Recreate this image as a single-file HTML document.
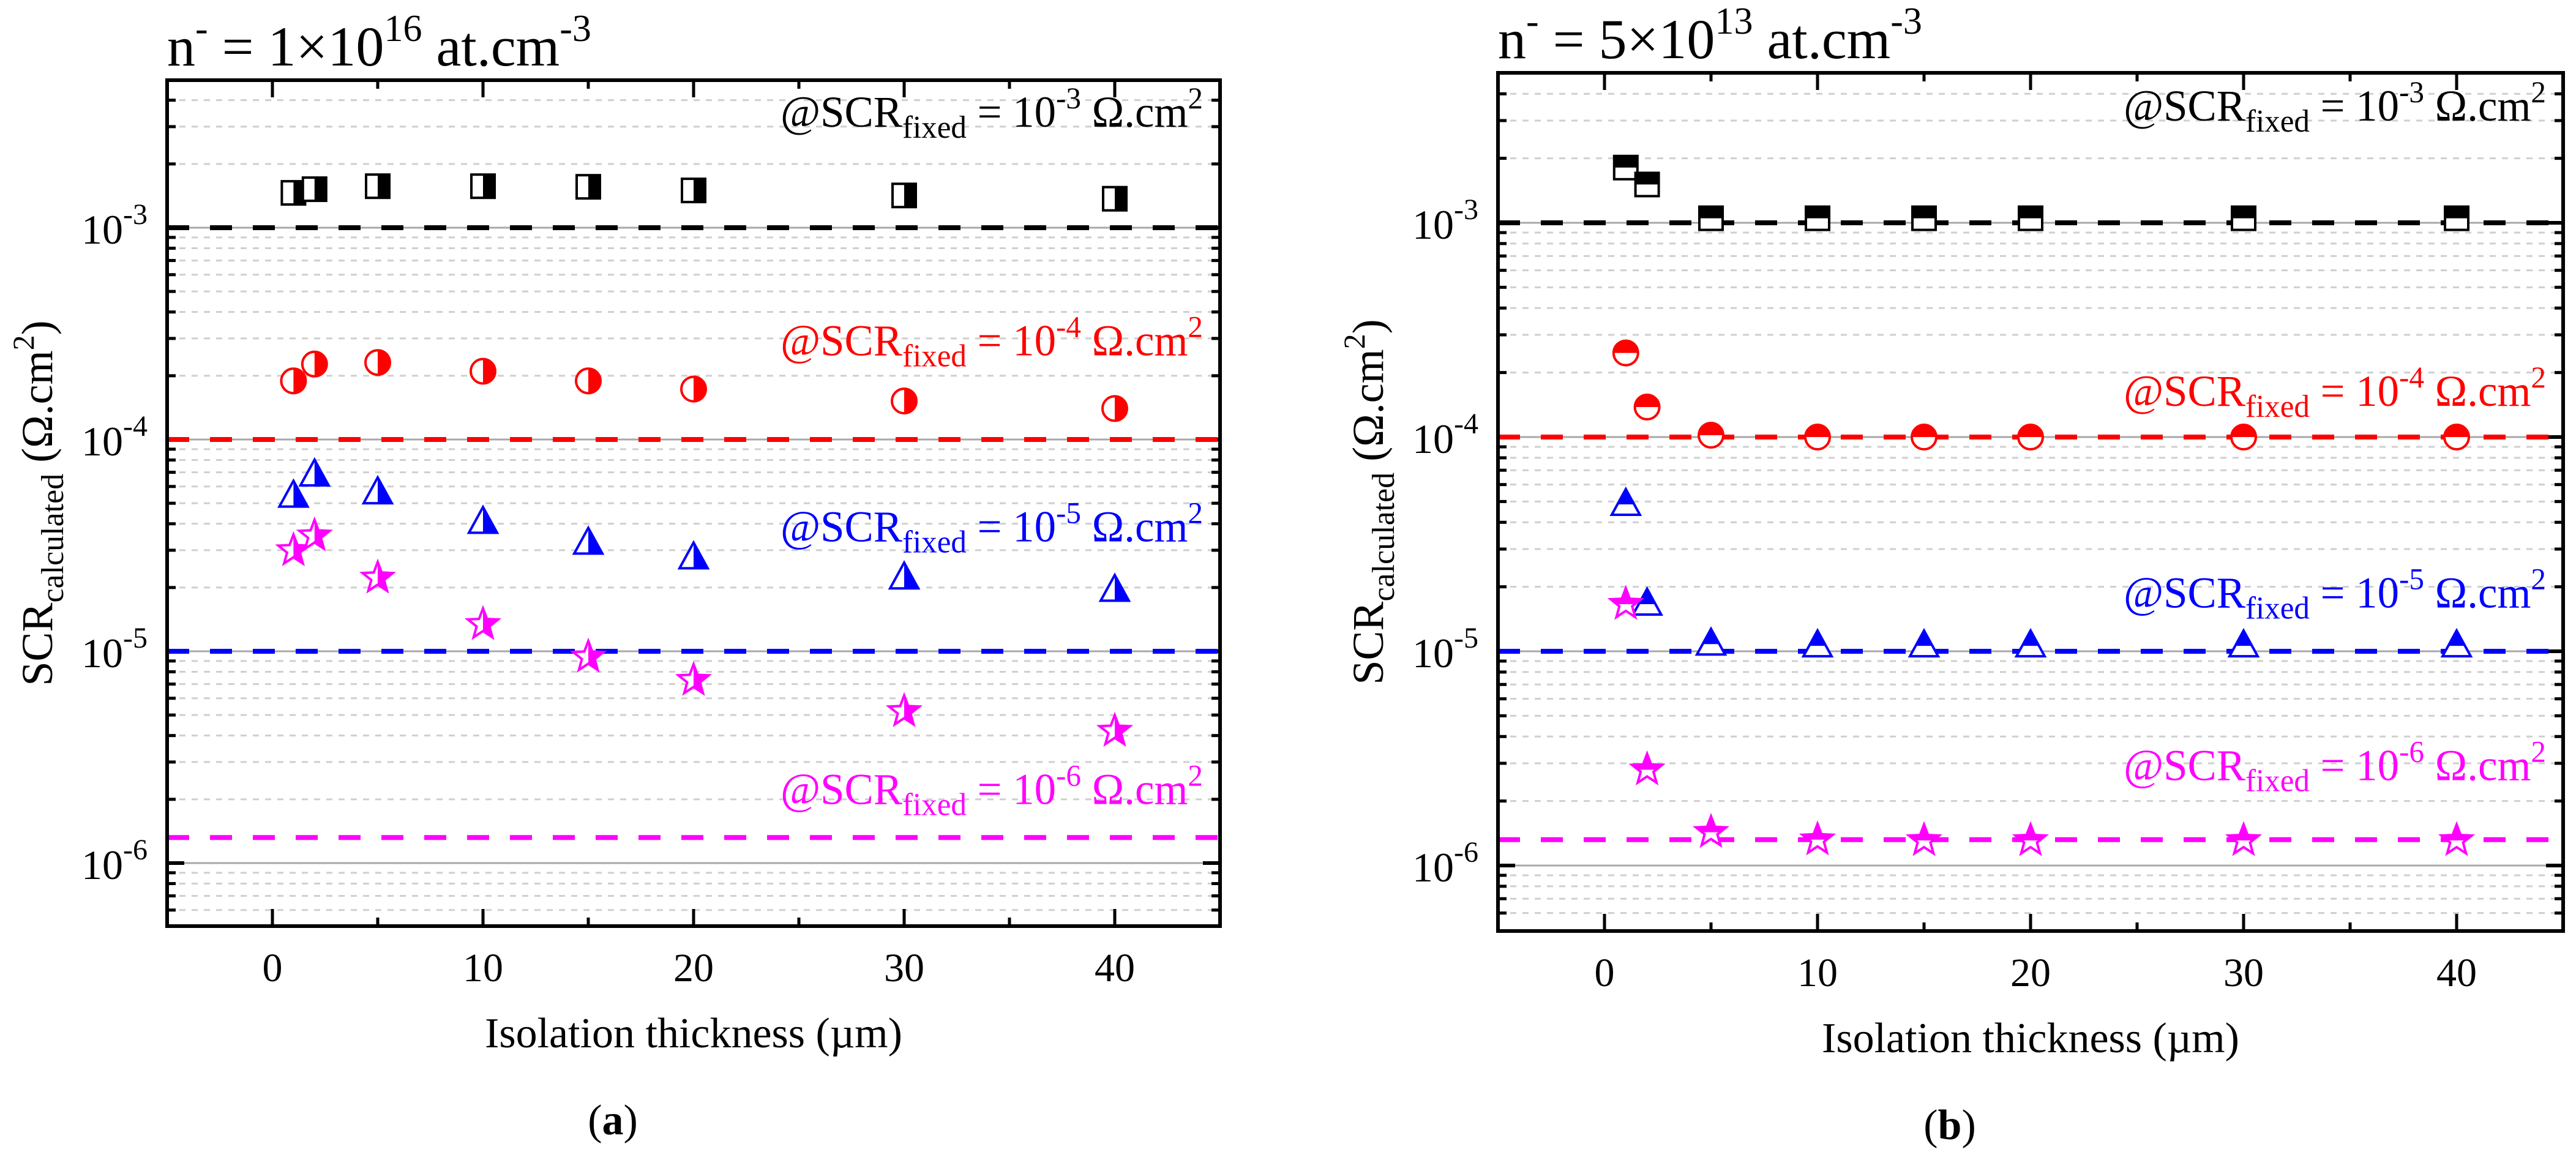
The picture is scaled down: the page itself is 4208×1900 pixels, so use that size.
<!DOCTYPE html>
<html><head><meta charset="utf-8">
<style>
html,body{margin:0;padding:0;background:#fff;}
svg, svg text{font-family:"Liberation Serif","Times New Roman","DejaVu Serif",serif;}
</style></head>
<body>
<svg id="fig" width="4208" height="1895" viewBox="0 0 4208 1895" xmlns="http://www.w3.org/2000/svg" font-family="'Liberation Serif', 'Times New Roman', serif">
<defs>
<clipPath id="clipR"><rect x="0" y="-40" width="40" height="80"/></clipPath>
<clipPath id="clipT"><rect x="-40" y="-40" width="80" height="40"/></clipPath>
</defs>
</svg>
<script>
// ---- data ----
const xValues = [1, 2, 5, 10, 15, 20, 30, 40];
const xTicks = [0, 10, 20, 30, 40];
const xMinorTicks = [5, 15, 25, 35];
const yDecades = [-3, -4, -5, -6];
const refLevels = [1e-3, 1e-4, 1e-5, 1.32e-6];
const refExps = ["-3", "-4", "-5", "-6"];
const seriesColors = ["#000000", "#ff0000", "#0000ff", "#ff00ff"];
const seriesShapes = ["square", "circle", "triangle", "star"];

const aBlack = [1.46e-3, 1.52e-3, 1.57e-3, 1.57e-3, 1.56e-3, 1.50e-3, 1.42e-3, 1.37e-3];
const aRed = [1.89e-4, 2.27e-4, 2.31e-4, 2.10e-4, 1.89e-4, 1.73e-4, 1.52e-4, 1.40e-4];
const aBlue = [5.4e-5, 6.8e-5, 5.6e-5, 4.06e-5, 3.24e-5, 2.76e-5, 2.22e-5, 1.94e-5];
const aMagenta = [2.99e-5, 3.51e-5, 2.22e-5, 1.34e-5, 9.4e-6, 7.3e-6, 5.2e-6, 4.2e-6];

const bBlack = [1.81e-3, 1.51e-3, 1.05e-3, 1.05e-3, 1.05e-3, 1.05e-3, 1.05e-3, 1.05e-3];
const bRed = [2.47e-4, 1.38e-4, 1.02e-4, 1.0e-4, 1.0e-4, 1.0e-4, 1.0e-4, 1.0e-4];
const bBlue = [4.85e-5, 1.66e-5, 1.08e-5, 1.06e-5, 1.06e-5, 1.06e-5, 1.06e-5, 1.06e-5];
const bMagenta = [1.66e-5, 2.8e-6, 1.43e-6, 1.32e-6, 1.31e-6, 1.31e-6, 1.31e-6, 1.31e-6];

const aAnnot = [3.0e-3, 2.5e-4, 3.3e-5, 1.9e-6];
const bAnnot = [3.0e-3, 1.4e-4, 1.6e-5, 2.5e-6];

const NS = "http://www.w3.org/2000/svg";
const svg = document.getElementById("fig");
function mk(tag, attrs, parent) {
  const e = document.createElementNS(NS, tag);
  for (const k in attrs) e.setAttribute(k, attrs[k]);
  if (tag === "text") e.setAttribute("font-family", "'Liberation Serif', 'Times New Roman', serif");
  (parent || svg).appendChild(e);
  return e;
}

function shapeEl(shape, parent, attrs) {
  let e;
  if (shape === "square") e = mk("rect", {x: -19, y: -19, width: 38, height: 38}, parent);
  else if (shape === "circle") e = mk("circle", {cx: 0, cy: 0, r: 20}, parent);
  else if (shape === "triangle") e = mk("polygon", {points: "0,-25 23,17 -23,17"}, parent);
  else {
    const pts = [];
    for (let i = 0; i < 10; i++) {
      const r = i % 2 === 0 ? 26 : 11;
      const a = -Math.PI / 2 + i * Math.PI / 5;
      pts.push((r * Math.cos(a)).toFixed(2) + "," + (r * Math.sin(a)).toFixed(2));
    }
    e = mk("polygon", {points: pts.join(" ")}, parent);
  }
  for (const k in attrs) e.setAttribute(k, attrs[k]);
  return e;
}

function panel(p) {
  const g = mk("g", {});
  
  
  const L = p.left, R = p.right, T = p.top, B = p.bottom;
  const xs = v => L + (v - (-5)) / 50 * (R - L);
  const ys = v => p.y3 - (Math.log10(v) + 3) * p.dec;

  for (let e = -7; e <= -3; e++) {
    for (let k = 2; k <= 9; k++) {
      const y = ys(k * Math.pow(10, e));
      if (y < T + 2 || y > B - 2) continue;
      const gl = mk("line", {x1: L, x2: R, y1: y, y2: y, stroke: "#cfcfcf", "stroke-width": 3, "stroke-dasharray": "10 10"}, g);
      
      
      const t1 = mk("line", {x1: L, x2: L + 14, y1: y, y2: y, stroke: "#000", "stroke-width": 5}, g);
      
      
      const t2 = mk("line", {x1: R, x2: R - 14, y1: y, y2: y, stroke: "#000", "stroke-width": 5}, g);
      
      
    }
  }
  yDecades.forEach(d => {
    const y = ys(Math.pow(10, d));
    const gl = mk("line", {x1: L, x2: R, y1: y, y2: y, stroke: "#a8a8a8", "stroke-width": 3}, g);
    
    
    const t1 = mk("line", {x1: L, x2: L + 28, y1: y, y2: y, stroke: "#000", "stroke-width": 6}, g);
    
    
    const t2 = mk("line", {x1: R, x2: R - 28, y1: y, y2: y, stroke: "#000", "stroke-width": 6}, g);
    
    
    const tx = mk("text", {x: L - 32, y: y + 26, "text-anchor": "end", "font-size": 68}, g);
    
    
    tx.appendChild(document.createTextNode("10"));
    const sp = mk("tspan", {dy: -32, "font-size": 48}, tx);
    sp.textContent = String(d);
  });
  xTicks.forEach(v => {
    const x = xs(v);
    const a = mk("line", {x1: x, x2: x, y1: B, y2: B - 28, stroke: "#000", "stroke-width": 5}, g);
    
    
    const b = mk("line", {x1: x, x2: x, y1: T, y2: T + 28, stroke: "#000", "stroke-width": 5}, g);
    
    
    const tx = mk("text", {x: x, y: B + 90, "text-anchor": "middle", "font-size": 66}, g);
    
    
    tx.textContent = String(v);
  });
  xMinorTicks.forEach(v => {
    const x = xs(v);
    const a = mk("line", {x1: x, x2: x, y1: B, y2: B - 14, stroke: "#000", "stroke-width": 5}, g);
    
    
    const b = mk("line", {x1: x, x2: x, y1: T, y2: T + 14, stroke: "#000", "stroke-width": 5}, g);
    
    
  });
  refLevels.forEach((v, i) => {
    const y = ys(v);
    const l = mk("line", {x1: L, x2: R, y1: y, y2: y, stroke: seriesColors[i], "stroke-width": 8, "stroke-dasharray": "36 34"}, g);
    
    
  });
  p.annY.forEach((v, i) => {
    const y = ys(v);
    const tx = mk("text", {x: R - 28, y: y, "text-anchor": "end", "font-size": 72, fill: seriesColors[i], textLength: 690, lengthAdjust: "spacingAndGlyphs"}, g);
    
    
    tx.appendChild(document.createTextNode("@SCR"));
    const s1 = mk("tspan", {dy: 18, "font-size": 52}, tx); s1.textContent = "fixed";
    const s2 = mk("tspan", {dy: -18}, tx); s2.textContent = " = 10";
    const s3 = mk("tspan", {dy: -30, "font-size": 50}, tx); s3.textContent = refExps[i];
    const s4 = mk("tspan", {dy: 30}, tx); s4.textContent = " \u03A9.cm";
    const s5 = mk("tspan", {dy: -30, "font-size": 50}, tx); s5.textContent = "2";
  });
  p.series.forEach((vals, si) => {
    const sg = mk("g", {}, g);
    
    
    vals.forEach((v, i) => {
      const m = mk("g", {transform: "translate(" + xs(xValues[i]).toFixed(1) + "," + ys(v).toFixed(1) + ")"}, sg);
      
      
      shapeEl(seriesShapes[si], m, {fill: "#fff", stroke: "none"});
      shapeEl(seriesShapes[si], m, {fill: seriesColors[si], stroke: "none", "clip-path": p.half});
      shapeEl(seriesShapes[si], m, {fill: "none", stroke: seriesColors[si], "stroke-width": 4});
    });
  });
  const fr = mk("rect", {x: L, y: T, width: R - L, height: B - T, fill: "none", stroke: "#000", "stroke-width": 6}, g);
  
  
  const tt = mk("text", {x: L, y: T - 24, "font-size": 92}, g);
  
  
  tt.appendChild(document.createTextNode("n"));
  const a1 = mk("tspan", {dy: -40, "font-size": 62}, tt); a1.textContent = "-";
  const a2 = mk("tspan", {dy: 40}, tt); a2.textContent = " = " + p.mant + "\u00D710";
  const a3 = mk("tspan", {dy: -40, "font-size": 62}, tt); a3.textContent = p.exp;
  const a4 = mk("tspan", {dy: 40}, tt); a4.textContent = " at.cm";
  const a5 = mk("tspan", {dy: -40, "font-size": 62}, tt); a5.textContent = "-3";

  const xt = mk("text", {x: (L + R) / 2, y: B + 198, "text-anchor": "middle", "font-size": 70}, g);
  
  
  xt.textContent = "Isolation thickness (\u00B5m)";

  const cy = (T + B) / 2;
  const yt = mk("text", {x: 0, y: 0, "text-anchor": "middle", "font-size": 72, transform: "translate(" + (L - 188) + "," + cy + ") rotate(-90)"}, g);
  
  
  yt.appendChild(document.createTextNode("SCR"));
  const b1 = mk("tspan", {dy: 18, "font-size": 52}, yt); b1.textContent = "calculated";
  const b2 = mk("tspan", {dy: -18}, yt); b2.textContent = " (\u03A9.cm";
  const b3 = mk("tspan", {dy: -30, "font-size": 50}, yt); b3.textContent = "2";
  const b4 = mk("tspan", {dy: 30}, yt); b4.textContent = ")";

  const lab = mk("text", {x: (L + R) / 2 - 132, y: B + 340, "text-anchor": "middle", "font-size": 70}, g);
  
  
  lab.appendChild(document.createTextNode("("));
  const c1 = mk("tspan", {"font-weight": "bold"}, lab); c1.textContent = p.label;
  const c2 = mk("tspan", {}, lab); c2.textContent = ")";
}

panel({name: "panel-a", left: 273, right: 1993, top: 131, bottom: 1513, y3: 372, dec: 346,
  half: "url(#clipR)", mant: "1", exp: "16", label: "a",
  annY: aAnnot, series: [aBlack, aRed, aBlue, aMagenta]});
panel({name: "panel-b", left: 2447, right: 4187, top: 119, bottom: 1521, y3: 364, dec: 350,
  half: "url(#clipT)", mant: "5", exp: "13", label: "b",
  annY: bAnnot, series: [bBlack, bRed, bBlue, bMagenta]});
</script>
</body></html>
